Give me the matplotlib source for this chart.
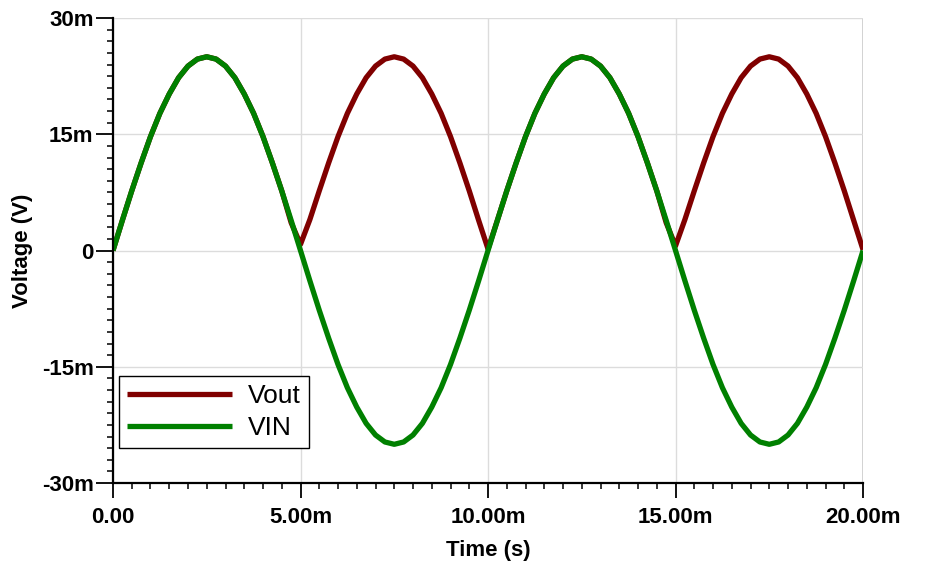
import matplotlib.pyplot as plt
from matplotlib.ticker import FixedLocator, FuncFormatter
import numpy as np

# time in ms, 0.25 ms steps
t_ms = [i * 0.25 for i in range(81)]

# VIN in mV
vin_mv = [0, 3.9, 7.7, 11.3, 14.7, 17.7, 20.2, 22.3, 23.8, 24.7, 25.0, 24.7, 23.8, 22.3, 20.2, 17.7, 14.7, 11.3, 7.7, 3.9,
          0, -3.9, -7.7, -11.3, -14.7, -17.7, -20.2, -22.3, -23.8, -24.7, -25.0, -24.7, -23.8, -22.3, -20.2, -17.7, -14.7, -11.3, -7.7, -3.9,
          0, 3.9, 7.7, 11.3, 14.7, 17.7, 20.2, 22.3, 23.8, 24.7, 25.0, 24.7, 23.8, 22.3, 20.2, 17.7, 14.7, 11.3, 7.7, 3.9,
          0, -3.9, -7.7, -11.3, -14.7, -17.7, -20.2, -22.3, -23.8, -24.7, -25.0, -24.7, -23.8, -22.3, -20.2, -17.7, -14.7, -11.3, -7.7, -3.9,
          0]

# Vout in mV (rectified)
vout_mv = [0, 3.9, 7.7, 11.3, 14.7, 17.7, 20.2, 22.3, 23.8, 24.7, 25.0, 24.7, 23.8, 22.3, 20.2, 17.7, 14.7, 11.3, 7.7, 3.6,
           0.8, 4.0, 7.7, 11.3, 14.7, 17.7, 20.2, 22.3, 23.8, 24.7, 25.0, 24.7, 23.8, 22.3, 20.2, 17.7, 14.7, 11.3, 7.7, 3.9,
           0.2, 3.9, 7.7, 11.3, 14.7, 17.7, 20.2, 22.3, 23.8, 24.7, 25.0, 24.7, 23.8, 22.3, 20.2, 17.7, 14.7, 11.3, 7.7, 3.6,
           0.6, 4.0, 7.7, 11.3, 14.7, 17.7, 20.2, 22.3, 23.8, 24.7, 25.0, 24.7, 23.8, 22.3, 20.2, 17.7, 14.7, 11.3, 7.7, 3.9,
           0.1]

t = np.array(t_ms) * 1e-3
vin = np.array(vin_mv) * 1e-3
vout = np.array(vout_mv) * 1e-3

plt.rcParams['font.family'] = ['Liberation Sans', 'DejaVu Sans']

fig = plt.figure(figsize=(9.30, 5.63), dpi=100)
ax = fig.add_axes([0.1215, 0.142, 0.8065, 0.826])

ax.plot(t, vout, color='#800000', lw=3.8, label='Vout', solid_capstyle='butt')
ax.plot(t, vin, color='#008000', lw=3.8, label='VIN', solid_capstyle='butt')

ax.set_xlim(0, 20e-3)
ax.set_ylim(-30e-3, 30e-3)

ax.xaxis.set_major_locator(FixedLocator([0, 5e-3, 10e-3, 15e-3, 20e-3]))
ax.yaxis.set_major_locator(FixedLocator([-30e-3, -15e-3, 0, 15e-3, 30e-3]))
ax.xaxis.set_minor_locator(FixedLocator([i * 0.5e-3 for i in range(41) if i % 10 != 0]))
ax.yaxis.set_minor_locator(FixedLocator([i * 1.5e-3 - 30e-3 for i in range(41) if i % 10 != 0]))


def xfmt(v, pos):
    if abs(v) < 1e-12:
        return '0.00'
    return '%.2fm' % (v * 1e3)


def yfmt(v, pos):
    if abs(v) < 1e-12:
        return '0'
    return '%dm' % round(v * 1e3)


ax.xaxis.set_major_formatter(FuncFormatter(xfmt))
ax.yaxis.set_major_formatter(FuncFormatter(yfmt))

for sp in ['top', 'right']:
    ax.spines[sp].set_visible(False)
for sp in ['left', 'bottom']:
    ax.spines[sp].set_linewidth(1.6)

ax.tick_params(which='major', direction='out', width=1.3, labelsize=16)
ax.tick_params(axis='x', which='major', length=11, pad=6)
ax.tick_params(axis='y', which='major', length=12, pad=2)
ax.tick_params(which='minor', direction='out', length=4, width=1.1)
for lab in ax.get_xticklabels() + ax.get_yticklabels():
    lab.set_fontweight('bold')

ax.grid(True, which='major', color='#dcdcdc', lw=1)
ax.axhline(30e-3, color='#c8c8c8', lw=1.2, zorder=0)
ax.axvline(20e-3, color='#c8c8c8', lw=1.2, zorder=0)

ax.set_xlabel('Time (s)', fontsize=16, fontweight='bold', labelpad=9)
ax.set_ylabel('Voltage (V)', fontsize=16, fontweight='bold', labelpad=6)

leg = ax.legend(loc='lower left', bbox_to_anchor=(0.008, 0.075), borderaxespad=0, fontsize=19,
                handlelength=4.0, handletextpad=0.6, labelspacing=0.3, borderpad=0.3,
                frameon=True, fancybox=False, edgecolor='black', framealpha=1)
leg.get_frame().set_linewidth(1.0)

fig.savefig('out.png', dpi=100)
